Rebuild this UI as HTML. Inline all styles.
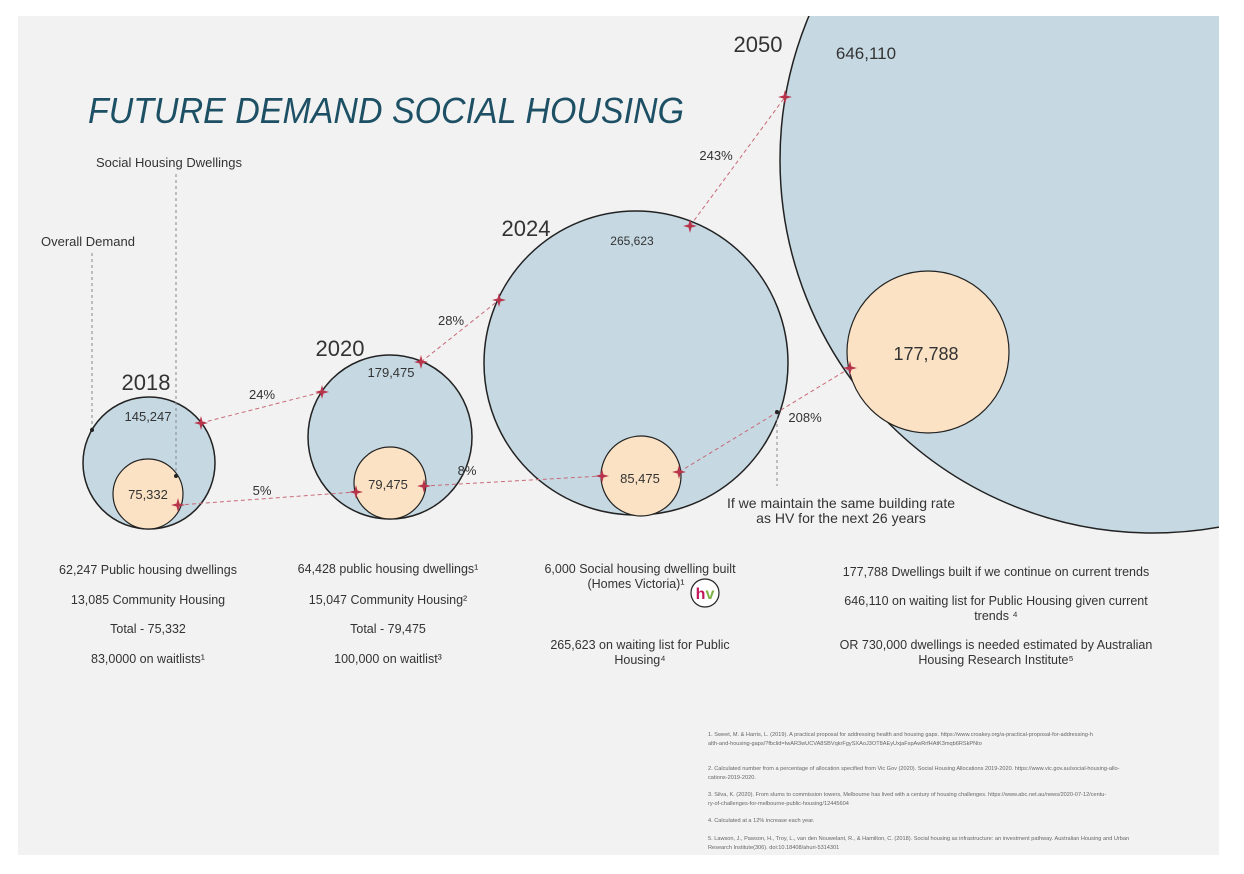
<!DOCTYPE html>
<html><head><meta charset="utf-8"><style>
body{margin:0;background:#fff;}
svg{display:block;font-family:"Liberation Sans",sans-serif;}
</style></head><body>
<svg width="1244" height="874" viewBox="0 0 1244 874" xmlns="http://www.w3.org/2000/svg">
<defs><clipPath id="pc"><rect x="18" y="16" width="1201" height="839"/></clipPath></defs>
<rect x="18" y="16" width="1201" height="839" fill="#f2f2f2"/>
<g id="marks" clip-path="url(#pc)"></g>
<g id="labels" fill="#333"></g>
<text x="88" y="123" font-size="36" font-style="italic" fill="#1d5064" textLength="596" lengthAdjust="spacingAndGlyphs">FUTURE DEMAND SOCIAL HOUSING</text>
<g fill="#333" font-size="13">
<text x="96" y="167">Social Housing Dwellings</text>
<text x="41" y="246">Overall Demand</text>
<line x1="176" y1="174" x2="176" y2="476" stroke="#888" stroke-dasharray="3,3"/>
<line x1="92" y1="253" x2="92" y2="430" stroke="#888" stroke-dasharray="3,3"/>
<circle cx="176" cy="476" r="2" fill="#222"/><circle cx="92" cy="430" r="2" fill="#222"/>
<line x1="777" y1="412" x2="777" y2="486" stroke="#888" stroke-dasharray="3,3"/>
<circle cx="777" cy="412" r="2" fill="#222"/>
<text x="841" y="508" text-anchor="middle" font-size="14">If we maintain the same building rate</text>
<text x="841" y="523" text-anchor="middle" font-size="14">as HV for the next 26 years</text>
</g>
<g fill="#333" font-size="12.5" text-anchor="middle">
<text x="148" y="574">62,247 Public housing dwellings</text>
<text x="148" y="604">13,085 Community Housing</text>
<text x="148" y="633">Total - 75,332</text>
<text x="148" y="663">83,0000 on waitlists¹</text>
<text x="388" y="573">64,428 public housing dwellings¹</text>
<text x="388" y="604">15,047 Community Housing²</text>
<text x="388" y="633">Total - 79,475</text>
<text x="388" y="663">100,000 on waitlist³</text>
<text x="640" y="573">6,000 Social housing dwelling built</text>
<text x="636" y="588">(Homes Victoria)¹</text>
<text x="640" y="649">265,623 on waiting list for Public</text>
<text x="640" y="664">Housing⁴</text>
<text x="996" y="576">177,788 Dwellings built if we continue on current trends</text>
<text x="996" y="605">646,110 on waiting list for Public Housing given current</text>
<text x="996" y="620">trends ⁴</text>
<text x="996" y="649">OR 730,000 dwellings is needed estimated by Australian</text>
<text x="996" y="664">Housing Research Institute⁵</text>
</g>
<g>
<circle cx="705" cy="593" r="14" fill="#fff" stroke="#222" stroke-width="1.2"/>
<text x="705" y="599" text-anchor="middle" font-size="16" font-weight="bold"><tspan fill="#c2185b">h</tspan><tspan fill="#7cb342">v</tspan></text>
</g>
<g fill="#666" font-size="5.6">
<text x="708" y="736">1. Sweet, M. &amp; Harris, L. (2019). A practical proposal for addressing health and housing gaps. https://www.croakey.org/a-practical-proposal-for-addressing-h</text>
<text x="708" y="745">alth-and-housing-gaps/?fbclid=IwAR3wUCVA8SBVqkrFgySXAoJ3OT8AEyUxjaFspAwRrfHAtK3mqb6RSkPNto</text>
<text x="708" y="770">2. Calculated number from a percentage of allocation specified from Vic Gov (2020). Social Housing Allocations 2019-2020. https://www.vic.gov.au/social-housing-allo-</text>
<text x="708" y="779">cations-2019-2020.</text>
<text x="708" y="796">3. Silva, K. (2020). From slums to commission towers, Melbourne has lived with a century of housing challenges. https://www.abc.net.au/news/2020-07-12/centu-</text>
<text x="708" y="805">ry-of-challenges-for-melbourne-public-housing/12445604</text>
<text x="708" y="822">4. Calculated at a 12% increase each year.</text>
<text x="708" y="840">5. Lawson, J., Pawson, H., Troy, L., van den Nouwelant, R., &amp; Hamilton, C. (2018). Social housing as infrastructure: an investment pathway. Australian Housing and Urban</text>
<text x="708" y="849">Research Institute(306). doi:10.18408/ahuri-5314301</text>
</g>
</svg>
<script>
const years = ['2018','2020','2024','2050'];
const demandValues = [145247, 179475, 265623, 646110];
const dwellingValues = [75332, 79475, 85475, 177788];
const demandGrowth = ['24%','28%','243%'];
const dwellingGrowth = ['5%','8%','208%'];
// layout (pixel geometry, not data)
const bigC = [[149,463,66],[390,437,82],[636,363,152],[1153,160,373]];
const smallC = [[148,494,35],[390,483,36],[641,476,40],[928,352,81]];
const bigLinks = [[[201,423],[322,392]],[[421,362],[499,300]],[[690,226],[785,97]]];
const smallLinks = [[[178,505],[356,492]],[[424,486],[602,476]],[[679,472],[850,368]]];
const yearPos = [[146,390,22],[340,356,22],[526,236,22],[758,52,22]];
const demandLbl = [[148,421,13],[391,377,13],[632,245,12],[866,59,17]];
const dwellLbl = [[148,499,13],[388,489,13],[640,483,13],[926,360,18]];
const dGrowthPos = [[262,399],[451,325],[716,160]];
const sGrowthPos = [[262,495],[467,475],[805,422]];

const NS='http://www.w3.org/2000/svg';
const marks=document.getElementById('marks'), labels=document.getElementById('labels');
function mk(tag,attrs,parent){const e=document.createElementNS(NS,tag);for(const k in attrs)e.setAttribute(k,attrs[k]);parent.appendChild(e);return e;}
function fmt(v){return v.toLocaleString('en-US');}

years.forEach((y,i)=>{
  const b=mk('circle',{cx:bigC[i][0],cy:bigC[i][1],r:bigC[i][2],fill:'#c6d9e3',stroke:'#222','stroke-width':1.5},marks);
  
  
  const s=mk('circle',{cx:smallC[i][0],cy:smallC[i][1],r:smallC[i][2],fill:'#fbe2c4',stroke:'#222','stroke-width':1.2},marks);
  
  
  const t=mk('text',{x:yearPos[i][0],y:yearPos[i][1],'font-size':yearPos[i][2],'text-anchor':'middle'},labels);
  t.textContent=y;
  
  
  const d=mk('text',{x:demandLbl[i][0],y:demandLbl[i][1],'font-size':demandLbl[i][2],'text-anchor':'middle'},labels);
  d.textContent=fmt(demandValues[i]);
  
  
  const w=mk('text',{x:dwellLbl[i][0],y:dwellLbl[i][1],'font-size':dwellLbl[i][2],'text-anchor':'middle'},labels);
  w.textContent=fmt(dwellingValues[i]);
  
  
});
function star(p){
  const g=mk('path',{d:`M${p[0]-7},${p[1]} L${p[0]-1.5},${p[1]-1.5} L${p[0]},${p[1]-7} L${p[0]+1.5},${p[1]-1.5} L${p[0]+7},${p[1]} L${p[0]+1.5},${p[1]+1.5} L${p[0]},${p[1]+7} L${p[0]-1.5},${p[1]+1.5}Z`,fill:'#b8344a'},labels);
  
  
}
function link(p,q,name){
  const l=mk('line',{x1:p[0],y1:p[1],x2:q[0],y2:q[1],stroke:'#c76a78','stroke-width':1,'stroke-dasharray':'4,3'},labels);
  
  
  star(p);star(q);
}
for(let i=0;i<3;i++){
  link(bigLinks[i][0],bigLinks[i][1],'demand-growth-line-'+i);
  link(smallLinks[i][0],smallLinks[i][1],'dwellings-growth-line-'+i);
  const g1=mk('text',{x:dGrowthPos[i][0],y:dGrowthPos[i][1],'font-size':13,'text-anchor':'middle'},labels);
  g1.textContent=demandGrowth[i];
  
  
  const g2=mk('text',{x:sGrowthPos[i][0],y:sGrowthPos[i][1],'font-size':13,'text-anchor':'middle'},labels);
  g2.textContent=dwellingGrowth[i];
  
  
}
</script>
</body></html>
